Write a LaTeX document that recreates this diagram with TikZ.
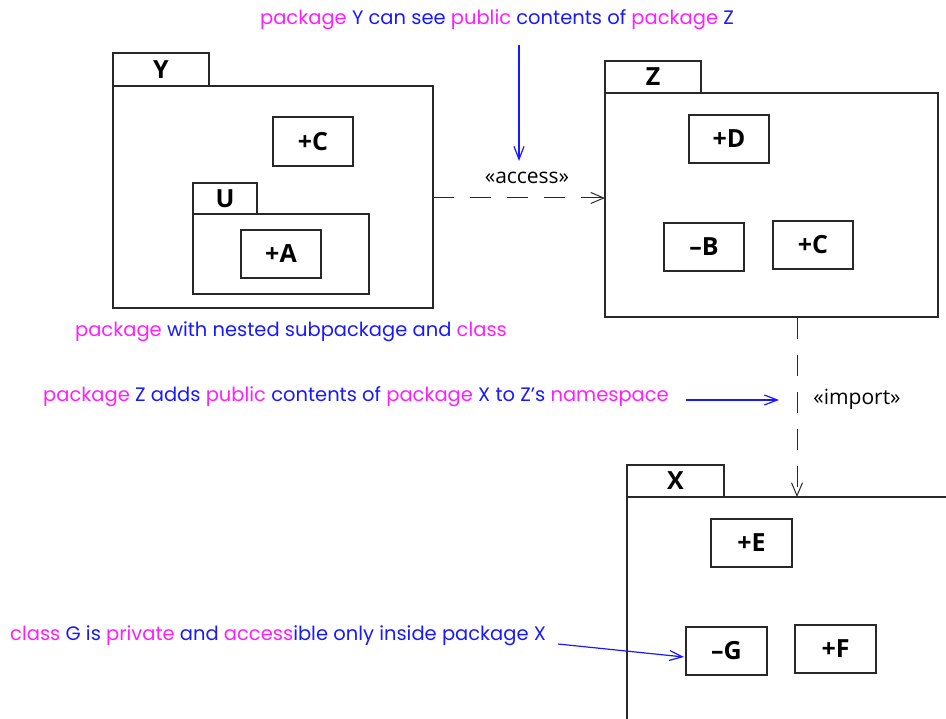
\documentclass[tikz,border=0pt]{standalone}
\usepackage{fontspec}
\newfontfamily\annfont{Poppins}
\newfontfamily\lblfont{Open Sans}
\usetikzlibrary{arrows.meta}
\definecolor{mag}{RGB}{255,30,255}
\definecolor{blu}{RGB}{25,25,255}
\definecolor{ink}{RGB}{40,40,40}
\begin{document}
\begin{tikzpicture}[x=1pt,y=-1pt,
  box/.style={draw=ink,line width=1.1pt,rectangle,inner sep=0pt,font=\lblfont\bfseries\fontsize{25}{29}\selectfont},
  ann/.style={font=\annfont\fontsize{19.5}{23}\selectfont,text=blu,inner sep=0pt},
  stereo/.style={font=\lblfont\fontsize{21}{24}\selectfont,inner sep=0pt},
  dep/.style={draw=ink,line width=1pt,dash pattern=on 21pt off 16pt,-{Straight Barb[length=13pt,width=11pt]}},
  note/.style={draw=blu,line width=1.2pt,-{Straight Barb[length=13pt,width=10pt]}}]
\useasboundingbox (0,0) rectangle (946,719);
% package Y
\node[box,minimum width=96pt,minimum height=33pt] (yt) at (161,69.5) {Y};
\node[box,minimum width=320pt,minimum height=222pt] (yb) at (273,197) {};
\node[box,minimum width=80pt,minimum height=49pt] (yc) at (313,141.5) {+C};
\node[box,minimum width=64pt,minimum height=31pt] (ut) at (225,198.5) {U};
\node[box,minimum width=176pt,minimum height=80pt] (ub) at (281,254) {};
\node[box,minimum width=80pt,minimum height=48pt] (ua) at (281,254) {+A};
% package Z
\node[box,minimum width=96pt,minimum height=32pt] (zt) at (653,77) {Z};
\node[box,minimum width=333pt,minimum height=224pt] (zb) at (771.5,205) {};
\node[box,minimum width=80pt,minimum height=48pt] (zd) at (729,139) {+D};
\node[box,minimum width=80pt,minimum height=48pt] (zbb) at (704,247) {–B};
\node[box,minimum width=80pt,minimum height=48pt] (zc) at (813,245) {+C};
% package X
\node[box,minimum width=97pt,minimum height=32pt] (xt) at (675.5,481) {X};
\coordinate (xbl) at (627,722);
\coordinate (xtr) at (950,497);
\draw[draw=ink,line width=1.1pt] (xbl) |- (xtr);
\node[box,minimum width=81pt,minimum height=48pt] (xe) at (751.5,543) {+E};
\node[box,minimum width=81pt,minimum height=48pt] (xg) at (726.5,651) {–G};
\node[box,minimum width=81pt,minimum height=48pt] (xf) at (835.5,649) {+F};
% dependencies
\draw[dep] (433,198) -- (605,198);
\node[stereo] (acc) at (527,178) {«access»};
\coordinate (ximp) at (797,497);
\draw[dep] (ximp |- zb.south) -- (ximp);
\node[stereo] (imp) at (857,399) {«import»};
% annotations
\node[ann] (t1) at (497,20) {\textcolor{mag}{package} Y can see \textcolor{mag}{public} contents of \textcolor{mag}{package} Z};
\coordinate (a1s) at (519,45);
\coordinate (a1e) at (519,161);
\draw[note] (a1s) -- (a1e);
\node[ann] (t2) at (291,332) {\textcolor{mag}{package} with nested subpackage and \textcolor{mag}{class}};
\node[ann,anchor=west] (t3) at (43,397) {\textcolor{mag}{package} Z adds \textcolor{mag}{public} contents of \textcolor{mag}{package} X to Z’s \textcolor{mag}{namespace}};
\coordinate (a3s) at (686,400);
\coordinate (a3e) at (779,400);
\draw[note] (a3s) -- (a3e);
\node[ann,anchor=west] (t4) at (10,636) {\textcolor{mag}{class} G is \textcolor{mag}{private} and \textcolor{mag}{access}ible only inside package X};
\coordinate (a4s) at (558,644);
\coordinate (a4e) at (684,657);
\draw[note] (a4s) -- (a4e);
\end{tikzpicture}
\end{document}
